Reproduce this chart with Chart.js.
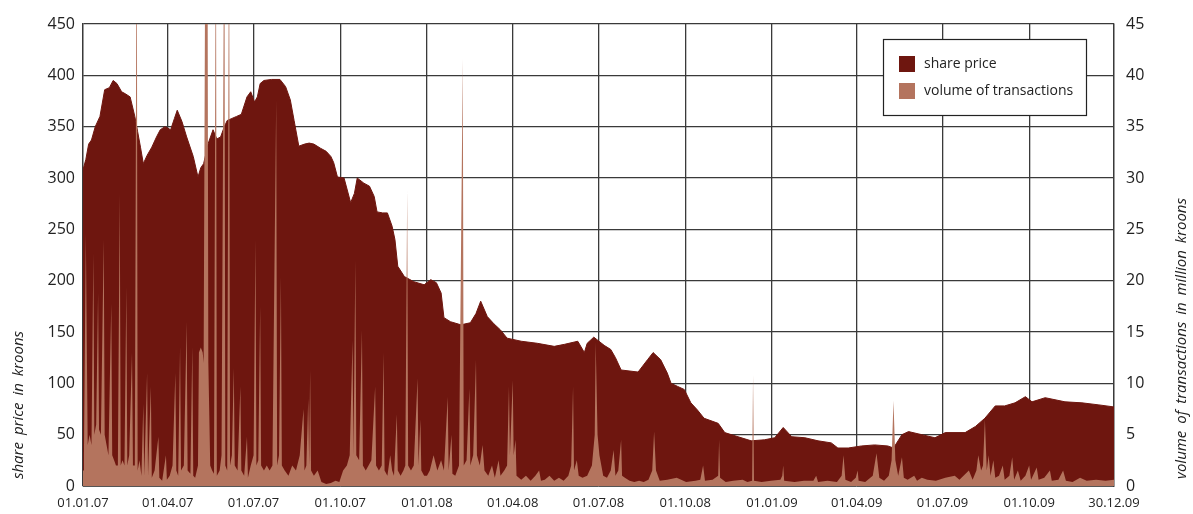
<!DOCTYPE html>
<html>
<head>
<meta charset="utf-8">
<title>share price and volume of transactions</title>
<script src="https://cdn.jsdelivr.net/npm/chart.js@4.4.1/dist/chart.umd.min.js"></script>
<style>
  html, body { margin: 0; padding: 0; background: #fff; }
  #wrap { width: 1193px; height: 514px; }
</style>
</head>
<body>
<div id="wrap"><canvas id="chart" width="1193" height="514"></canvas></div>
<script>
// x values are days counted from 01.01.07

// share price in kroons, [day, price]
const priceSeries = [
  [0, 308], [3, 318], [6, 333], [9, 337], [13, 350], [18, 360], [23, 386], [28, 388], [32, 395], [36, 392],
  [41, 384], [45, 382], [50, 379], [55, 360], [58, 345], [61, 330], [64, 314], [68, 322], [73, 330], [78, 340],
  [82, 347], [87, 350], [93, 347], [97, 358], [100, 366], [105, 355], [110, 340], [117, 321], [122, 301], [125, 310],
  [128, 314], [133, 334], [138, 347], [142, 338], [146, 340], [150, 350], [153, 356], [158, 358], [163, 360], [168, 362],
  [174, 379], [178, 384], [182, 374], [185, 379], [188, 392], [192, 395], [200, 396], [209, 396], [215, 389], [220, 376],
  [224, 356], [229, 331], [235, 333], [240, 334], [245, 333], [252, 329], [258, 326], [263, 321], [266, 315], [270, 301],
  [277, 300], [284, 276], [288, 285], [291, 300], [298, 295], [304, 292], [309, 282], [312, 267], [318, 266], [323, 266],
  [328, 253], [331, 240], [334, 214], [341, 204], [351, 199], [362, 196], [369, 201], [375, 198], [380, 188], [383, 164],
  [390, 160], [401, 157], [411, 159], [417, 168], [422, 180], [429, 165], [436, 158], [443, 152], [450, 144], [465, 141],
  [482, 139], [500, 136], [511, 138], [525, 141], [532, 130], [535, 139], [542, 145], [553, 137], [560, 133], [565, 125],
  [571, 113], [589, 111], [599, 123], [605, 130], [613, 123], [620, 110], [624, 100], [631, 97], [638, 94], [645, 81],
  [652, 74], [659, 66], [674, 61], [681, 52], [695, 48], [709, 44], [723, 45], [734, 47], [743, 57], [752, 48],
  [766, 47], [780, 44], [794, 42], [801, 37], [812, 37], [826, 39], [840, 40], [854, 39], [860, 37], [869, 50],
  [876, 53], [890, 50], [904, 47], [915, 52], [936, 52], [947, 58], [957, 66], [968, 78], [978, 78], [989, 81],
  [1000, 87], [1007, 82], [1021, 86], [1042, 82], [1060, 81], [1078, 79], [1094, 77]
];

// volume of transactions in million kroons, [day, volume]; 60 = spike cut off at the top
const volumeSeries = [
  [0, 1.5], [1, 3], [3, 24.6], [5, 4], [7, 5], [9, 4], [11, 22.7], [12, 5], [14, 6], [16, 18.8],
  [17, 5.5], [19, 5], [22, 24], [23, 5], [25, 4], [27, 3], [30, 17.8], [31, 3], [33, 2.5], [35, 2],
  [37, 2], [39, 28.5], [40, 2], [42, 2.5], [44, 2], [46, 19.4], [47, 2], [49, 3], [52, 13], [53, 2],
  [55, 2], [57, 60], [58, 1.5], [60, 2.5], [62, 1], [64, 8], [65, 1], [68, 11], [69, 1], [72, 9.7],
  [73, 0.8], [76, 1.5], [80, 4.8], [81, 0.8], [84, 0.5], [88, 3], [89, 0.6], [92, 1], [95, 2], [98, 11],
  [99, 1.5], [101, 1], [103, 13.6], [104, 1.5], [107, 2], [110, 16], [111, 1.5], [114, 1.2], [116, 13.6], [117, 1],
  [119, 0.8], [122, 2], [123, 13], [125, 13.5], [127, 13], [128, 12], [130, 60], [132, 60], [133, 12], [135, 2],
  [137, 1.5], [139, 1.2], [141, 60], [142, 1], [145, 1.5], [147, 3], [150, 60], [151, 2], [153, 1.5], [155, 60],
  [156, 2], [158, 3], [160, 11.5], [161, 2], [164, 1.5], [167, 9.7], [168, 1.5], [171, 1], [174, 4.8], [175, 0.8],
  [178, 2], [181, 3], [183, 24], [184, 2], [186, 2.5], [188, 17.5], [189, 2], [192, 1.5], [195, 2], [198, 1.5],
  [201, 2], [205, 37.6], [206, 2], [208, 3], [210, 20.4], [211, 2], [214, 1.5], [218, 1], [222, 2], [226, 1.5],
  [230, 3], [234, 7.5], [235, 1.5], [237, 2], [239, 8.5], [240, 2], [241, 11.3], [242, 1.5], [245, 1], [249, 1.5],
  [253, 0.4], [258, 0.2], [263, 0.3], [268, 0.5], [272, 0.4], [276, 1.5], [280, 2], [283, 3], [286, 14.2], [287, 3],
  [289, 22], [290, 3], [293, 2.5], [296, 15.2], [297, 2], [300, 1.5], [303, 2], [306, 2.5], [310, 9.7], [311, 2],
  [314, 1.5], [317, 2], [319, 13], [320, 1.5], [323, 1], [326, 3], [328, 1.5], [330, 1], [333, 7], [334, 1.5],
  [337, 1], [340, 1.5], [342, 2], [344, 28.8], [345, 2], [348, 1.5], [351, 2], [355, 10.5], [356, 2], [358, 6.5],
  [359, 1.5], [362, 1], [365, 1], [368, 1.5], [372, 3], [376, 1.5], [380, 2.5], [383, 1.5], [387, 8.7], [388, 1.5],
  [391, 5], [392, 1.2], [395, 1], [399, 2], [403, 41.6], [404, 2], [407, 2.5], [410, 9.5], [411, 2], [414, 3],
  [417, 12.3], [418, 3], [421, 2], [424, 4], [426, 1.5], [430, 1], [434, 2], [437, 0.8], [441, 2.5], [443, 1],
  [447, 1.5], [450, 2], [452, 9.7], [453, 3], [456, 10.3], [457, 3], [459, 4.5], [460, 1], [465, 0.6], [470, 1],
  [475, 0.5], [480, 1], [484, 1.5], [486, 0.5], [490, 0.6], [495, 1], [500, 0.5], [505, 0.8], [510, 0.5], [515, 1],
  [518, 2], [520, 9.7], [521, 1.5], [524, 2.5], [526, 1], [530, 0.8], [535, 1], [540, 2], [543, 5], [544, 14],
  [546, 5], [548, 3], [552, 1], [556, 0.8], [560, 1.5], [563, 3.5], [565, 1], [568, 1.5], [571, 4.5], [572, 1],
  [575, 0.8], [580, 0.5], [585, 0.4], [590, 0.5], [595, 0.4], [600, 0.6], [604, 1.5], [606, 5.3], [608, 1.5], [612, 0.5],
  [620, 0.6], [630, 0.8], [640, 0.4], [650, 0.5], [655, 0.6], [658, 2], [660, 0.5], [668, 0.6], [674, 1], [675, 4.5],
  [676, 0.8], [682, 0.4], [690, 0.5], [700, 0.6], [705, 0.4], [710, 0.5], [711, 10.8], [712, 0.5], [720, 0.4], [730, 0.5],
  [740, 0.6], [742, 1], [743, 2], [744, 0.5], [755, 0.4], [765, 0.5], [775, 0.5], [778, 1], [780, 0.4], [790, 0.5],
  [800, 0.4], [805, 1], [807, 3], [809, 0.6], [815, 0.4], [820, 0.8], [822, 1.5], [823, 0.5], [830, 0.4], [838, 1],
  [842, 3.2], [845, 0.8], [850, 0.5], [855, 1], [858, 2.5], [860, 8.3], [862, 2.5], [865, 1], [869, 2.8], [871, 0.8],
  [875, 0.6], [882, 1], [885, 0.5], [890, 0.8], [896, 0.6], [905, 0.5], [915, 0.8], [925, 1], [930, 0.6], [940, 1.5],
  [944, 0.6], [948, 1.5], [950, 3], [953, 1.5], [955, 2], [957, 6.5], [959, 1.5], [961, 3], [963, 1], [966, 2.5],
  [968, 0.8], [972, 1], [976, 2], [978, 0.6], [983, 1], [986, 2.8], [988, 0.6], [992, 1.5], [995, 0.5], [1000, 1],
  [1004, 2], [1006, 0.6], [1012, 1.8], [1014, 0.6], [1020, 0.8], [1026, 1.5], [1028, 0.5], [1035, 0.6], [1040, 1.5], [1043, 0.5],
  [1050, 0.4], [1058, 0.8], [1065, 0.5], [1075, 0.6], [1085, 0.5], [1094, 0.6]
];

// date ticks on the x axis
const tickDays = [0, 90, 181, 273, 365, 456, 547, 639, 731, 821, 912, 1004, 1094];
const tickLabels = ['01.01.07', '01.04.07', '01.07.07', '01.10.07', '01.01.08', '01.04.08',
  '01.07.08', '01.10.08', '01.01.09', '01.04.09', '01.07.09', '01.10.09', '30.12.09'];

const priceColor = '#6e160f';
const volumeColor = '#b4745e';
const gridColor = '#3a3a3a';
const textColor = '#222';

function toPoints(series) {
  return series.map(p => ({ x: p[0], y: p[1] }));
}

// axis titles, both read bottom to top
const axisTitles = {
  id: 'axisTitles',
  afterDraw(chart) {
    const ctx = chart.ctx;
    ctx.save();
    ctx.fillStyle = textColor;
    ctx.font = 'italic 15px "Open Sans", sans-serif';
    ctx.textAlign = 'left';
    ctx.textBaseline = 'middle';
    ctx.wordSpacing = '3px';
    ctx.translate(19, 479);
    ctx.rotate(-Math.PI / 2);
    ctx.fillText('share price in kroons', 0, 0);
    ctx.restore();

    ctx.save();
    ctx.fillStyle = textColor;
    ctx.font = 'italic 15px "Open Sans", sans-serif';
    ctx.textAlign = 'left';
    ctx.textBaseline = 'middle';
    ctx.wordSpacing = '3px';
    ctx.translate(1182, 479);
    ctx.rotate(-Math.PI / 2);
    ctx.fillText('volume of transactions in million kroons', 0, 0);
    ctx.restore();
  }
};

// boxed legend in the upper right of the plot
const boxLegend = {
  id: 'boxLegend',
  afterDraw(chart) {
    const ctx = chart.ctx;
    const x = 883, y = 39, w = 203, h = 76;
    ctx.save();
    ctx.fillStyle = '#fff';
    ctx.fillRect(x, y, w, h);
    ctx.strokeStyle = '#222';
    ctx.lineWidth = 1.2;
    ctx.strokeRect(x + 0.5, y + 0.5, w, h);
    ctx.font = '14px "Open Sans", sans-serif';
    ctx.textAlign = 'left';
    ctx.textBaseline = 'middle';
    chart.data.datasets.forEach((ds, i) => {
      const cy = y + 25 + i * 27;
      ctx.fillStyle = ds.backgroundColor;
      ctx.fillRect(x + 16, cy - 8, 16, 16);
      ctx.fillStyle = textColor;
      ctx.fillText(ds.label, x + 41, cy);
    });
    ctx.restore();
  }
};

const ctx = document.getElementById('chart').getContext('2d');
const chart = new Chart(ctx, {
  type: 'line',
  data: {
    datasets: [{
      label: 'share price',
      data: toPoints(priceSeries),
      yAxisID: 'y',
      backgroundColor: priceColor,
      borderColor: priceColor,
      borderWidth: 1,
      fill: 'origin',
      pointRadius: 0,
      tension: 0,
      order: 2
    }, {
      label: 'volume of transactions',
      data: toPoints(volumeSeries),
      yAxisID: 'y1',
      backgroundColor: volumeColor,
      borderColor: volumeColor,
      borderWidth: 0,
      fill: 'origin',
      pointRadius: 0,
      tension: 0,
      order: 1
    }]
  },
  options: {
    responsive: false,
    animation: false,
    layout: { padding: { top: 24, left: 0, right: 0, bottom: 0 } },
    plugins: {
      legend: { display: false },
      tooltip: { enabled: false }
    },
    scales: {
      x: {
        type: 'linear',
        min: 0,
        max: 1094,
        afterBuildTicks: scale => {
          scale.ticks = tickDays.map(d => ({ value: d }));
        },
        afterFit: scale => { scale.height = 28; },
        ticks: {
          autoSkip: false,
          maxRotation: 0,
          padding: 9,
          color: textColor,
          font: { family: '"Liberation Sans Narrow", "Open Sans", sans-serif', size: 13 },
          callback: v => tickLabels[tickDays.indexOf(v)]
        },
        grid: { color: gridColor, lineWidth: 1.3, drawTicks: false },
        border: { color: '#555', width: 1 }
      },
      y: {
        position: 'left',
        min: 0,
        max: 450,
        afterFit: scale => { scale.width = 83; },
        ticks: {
          stepSize: 50,
          padding: 8,
          color: textColor,
          font: { family: '"Open Sans", sans-serif', size: 16 }
        },
        grid: { color: gridColor, lineWidth: 1.3, drawTicks: false },
        border: { color: gridColor, width: 1.3 }
      },
      y1: {
        position: 'right',
        min: 0,
        max: 45,
        afterFit: scale => { scale.width = 79; },
        ticks: {
          stepSize: 5,
          padding: 12,
          color: textColor,
          font: { family: '"Open Sans", sans-serif', size: 16 }
        },
        grid: { display: false, drawTicks: false },
        border: { color: gridColor, width: 1.3 }
      }
    }
  },
  plugins: [axisTitles, boxLegend]
});
</script>
</body>
</html>
